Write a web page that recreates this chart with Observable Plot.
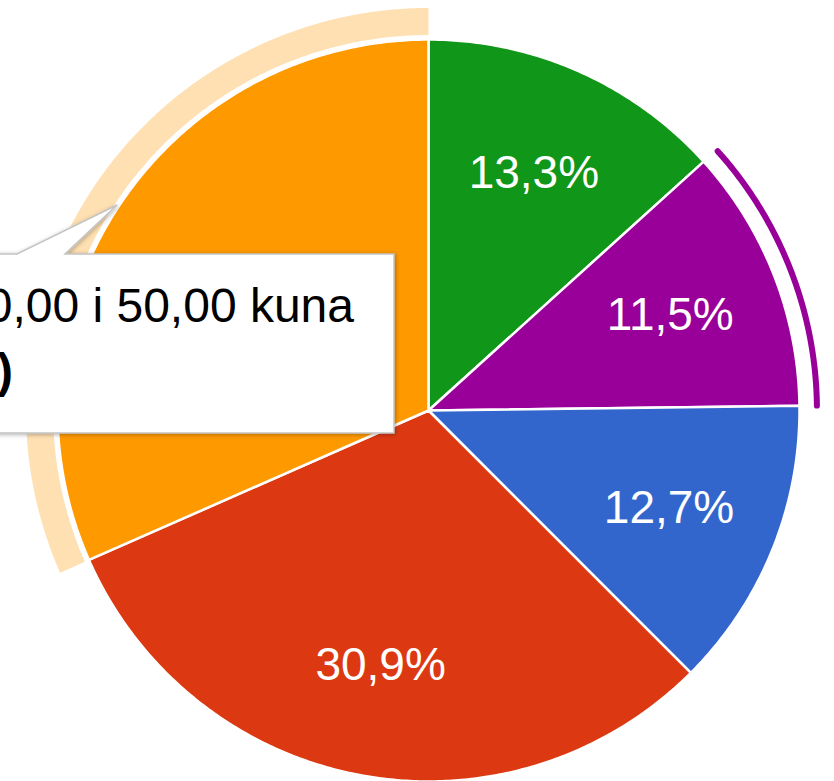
<!DOCTYPE html>
<html><head><meta charset="utf-8">
<script src="https://cdn.jsdelivr.net/npm/d3@7"></script>
<script src="https://cdn.jsdelivr.net/npm/@observablehq/plot@0.6"></script>
<style>
html,body{margin:0;padding:0;background:#fff;overflow:hidden}
#wrap{position:relative;width:834px;height:781px;overflow:hidden}
#wrap svg{display:block}
#tip{position:absolute;left:0;top:0;pointer-events:none}
</style></head><body><div id="wrap"></div>
<script>
// Slices in clockwise order from 12 o'clock
const categories = ["Manje od 20,00 kuna", "Između 100,00 i 200,00 kuna", "Više od 200,00 kuna", "Između 50,00 i 100,00 kuna", "Između 20,00 i 50,00 kuna"];
const percents = [13.3, 11.5, 12.7, 30.9, 31.6];
const sliceLabels = ["13,3%", "11,5%", "12,7%", "30,9%", "31,6%"];
const colors = ["#109618", "#990099", "#3366cc", "#dc3912", "#ff9900"];
const hoveredIndex = 4;   // orange slice (tooltip + pale ring; its label is hidden under the tooltip)
const selectedIndex = 1;  // purple slice (thin outer ring)
const tooltipTitle = "Između 20,00 i 50,00 kuna";
const tooltipValue = "52 (31,6%)";

const rows = categories.map((c, i) => ({category: c, pct: percents[i], label: sliceLabels[i], color: colors[i]}));
const arcs = d3.pie().sort(null).value(d => d.pct)(rows);

const step = Math.PI / 360;
function arcPts(a0, a1, r) {
  const n = Math.max(2, Math.ceil((a1 - a0) / step));
  return d3.range(n + 1).map(k => {
    const a = a0 + (a1 - a0) * k / n;
    return {x: r * Math.sin(a), y: r * Math.cos(a)};
  });
}

const slicePts = arcs.flatMap(a => {
  const pts = [{x: 0, y: 0}, ...arcPts(a.startAngle, a.endAngle, 1), {x: 0, y: 0}];
  return pts.map(p => ({...p, category: a.data.category, color: a.data.color}));
});

const h = arcs[hoveredIndex];
const ringPts = [...arcPts(h.startAngle, h.endAngle, 1.085), ...arcPts(h.startAngle, h.endAngle, 1.012).reverse()]
  .map(p => ({...p, color: h.data.color}));

const s = arcs[selectedIndex];
const selPts = arcPts(s.startAngle + 0.004, s.endAngle, 1.047).map(p => ({...p, color: s.data.color}));

const labelPts = arcs.filter(a => a.index !== hoveredIndex).map(a => {
  const m = (a.startAngle + a.endAngle) / 2;
  return {x: 0.7 * Math.sin(m), y: 0.7 * Math.cos(m), text: a.data.label};
});

const chart = Plot.plot({
  width: 834, height: 781,
  margin: 0,
  x: {domain: [-1, 1], range: [57, 799], axis: null},
  y: {domain: [-1, 1], range: [781, 39], axis: null},
  color: {type: "identity"},
  marks: [
    Plot.line(ringPts, {x: "x", y: "y", fill: "color", fillOpacity: 0.3, stroke: "none", curve: "linear-closed"}),
    Plot.line(slicePts, {x: "x", y: "y", z: "category", fill: "color", stroke: "white", strokeWidth: 2.5, strokeLinejoin: "round"}),
    Plot.line(selPts, {x: "x", y: "y", stroke: "color", strokeWidth: 6, fill: "none"}),
    Plot.text(labelPts, {x: "x", y: "y", text: "text", fill: "white", fontSize: 46, fontFamily: "Arial, 'Liberation Sans', sans-serif"})
  ]
});
chart.style.fontFamily = "Arial, 'Liberation Sans', sans-serif";
const wrap = document.getElementById("wrap");
wrap.appendChild(chart);

// Tooltip overlay
const ns = "http://www.w3.org/2000/svg";
const tip = document.createElementNS(ns, "svg");
tip.setAttribute("id", "tip");
tip.setAttribute("width", 834);
tip.setAttribute("height", 781);
tip.innerHTML = `
  <defs><filter id="sh" x="-10%" y="-20%" width="130%" height="150%">
    <feDropShadow dx="1" dy="1" stdDeviation="2" flood-color="#000" flood-opacity="0.3"/></filter></defs>
  <path d="M-20,254 L17,254 L117,205 L65,254 L394,254 L394,433 L-20,433 Z" fill="#fff" stroke="#c4c4c4" stroke-width="1.5" filter="url(#sh)"/>
  <text x="354" y="322" text-anchor="end" font-family="Arial, 'Liberation Sans', sans-serif" font-size="48" fill="#000">${tooltipTitle}</text>
  <text x="13" y="387" text-anchor="end" font-family="Arial, 'Liberation Sans', sans-serif" font-size="48" font-weight="bold" fill="#000">${tooltipValue}</text>`;
wrap.appendChild(tip);
</script></body></html>
